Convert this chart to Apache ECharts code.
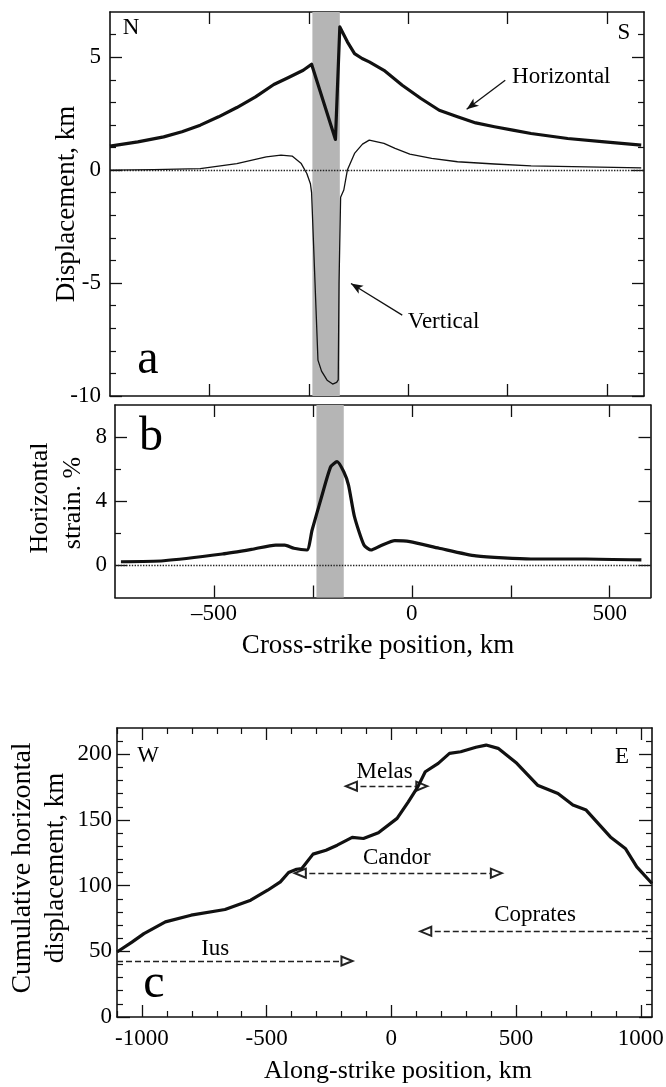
<!DOCTYPE html>
<html><head><meta charset="utf-8">
<script src="https://cdn.jsdelivr.net/npm/echarts@6/dist/echarts.min.js"></script>
<style>html,body{margin:0;padding:0;background:#fff}#c{width:666px;height:1087px}</style>
</head><body><div id="c"></div>
<script>
// ---------------- DATA ----------------
// Panel a: displacement (km) vs cross-strike position (km)
const horizX = [-750,-680,-615,-569,-523,-477,-431,-384,-338,-301,-264,-243,-183,-172,-153,-135,-116,-98,-61,-15,32,78,124,170,217,263,309,401,494,586];
const horizY = [1.06,1.25,1.47,1.70,1.99,2.36,2.77,3.24,3.79,4.10,4.42,4.69,1.36,6.34,5.68,5.16,4.94,4.79,4.42,3.76,3.17,2.65,2.36,2.09,1.92,1.77,1.62,1.40,1.25,1.11];
const vertX = [-750,-640,-523,-431,-357,-320,-292,-269,-255,-246,-243,-227,-218,-204,-190,-180,-176,-174,-170,-162,-153,-135,-115,-98,-61,-33,4,59,124,217,309,586];
const vertY = [0.0,0.02,0.07,0.29,0.59,0.66,0.62,0.29,-0.15,-0.6,-1.0,-8.41,-8.9,-9.3,-9.47,-9.4,-9.29,-5.0,-1.2,-0.88,0.0,0.74,1.15,1.33,1.18,0.96,0.71,0.52,0.37,0.27,0.19,0.10];
const bandX = [-241, -172];
// Panel a annotations
const annotNames = ['Horizontal','Vertical'];
const annotLabelX = [385, 89];
const annotLabelY = [4.13, -6.71];
const annotFromX = [244, -15];
const annotFromY = [3.98, -6.42];
const annotToX = [147, -144];
const annotToY = [2.69, -5.02];

// Panel b: horizontal strain (%)
const strainX = [-735,-627,-479,-405,-344,-321,-298,-265,-252,-228,-205,-189,-172,-160,-145,-121,-103,-80,-43,-5,69,162,301,440,580];
const strainY = [0.23,0.29,0.71,1.00,1.27,1.27,1.07,0.96,2.21,4.28,6.15,6.47,5.84,5.01,3.04,1.27,0.96,1.21,1.54,1.48,1.07,0.59,0.40,0.40,0.34];

// Panel c: cumulative horizontal displacement (km) vs along-strike position (km)
const alongX = [-1100,-1040,-992,-906,-803,-667,-564,-496,-445,-412,-380,-359,-314,-262,-217,-157,-112,-52,23,68,106,136,188,233,278,339,380,428,503,586,668,728,781,878,938,984,1045];
const cumDisp = [49.5,57,63.5,72.4,77.5,81.8,88.9,96.5,102.9,110,112.5,113,124,127,130.8,136.7,135.9,140.2,151.2,163.8,175.2,186.7,193.1,200.7,201.9,205.3,207,204.5,193.1,176.5,170.2,161.3,157.5,137.1,128.3,114.3,101.6];
const valleyNames = ['Melas','Candor','Coprates','Ius'];
const valleyFrom = [-160,-365,138,-1100];
const valleyTo = [122,421,1045,-178];
const valleyLevel = [175.7,109.5,65.2,42.6];
const valleyStartHead = [true,true,true,false];
const valleyEndHead = [true,true,false,true];
const valleyLabelX = [-27,22,576,-706];
const valleyLabelY = [186.5,121.3,77.4,51.5];

// Tick values
const aXTicks = [-500,-250,0,250,500];
const aYLabels = [-10,-5,0,5];
const aYMinor = [-9,-8,-7,-6,-4,-3,-2,-1,1,2,3,4,6];
const bXTicks = [-500,-250,0,250,500];
const bXLabels = [-500,0,500];
const bYLabels = [0,4,8];
const bYMinor = [2,6];
const cXLabels = [-1000,-500,0,500,1000];
const cXMinor = [-1100,-900,-800,-700,-600,-400,-300,-200,-100,100,200,300,400,600,700,800,900];
const cYLabels = [0,50,100,150,200];
const cYMinor = [10,20,30,40,60,70,80,90,110,120,130,140,160,170,180,190,210];

// ---------------- CHART ----------------
const FONT = '"Liberation Serif","Times New Roman","DejaVu Serif",serif';
const INK = '#000';
const zip = (a,b) => a.map((v,i)=>[v,b[i]]);

const grids = [
  {left:110, top:12, width:534, height:384},
  {left:115, top:405, width:535.5, height:192.5},
  {left:117, top:728, width:535, height:289}
];
grids.forEach(g=>{g.containLabel=false; g.outerBoundsMode='none';});

const xAxes = [], yAxes = [];
function axisBase(g,min,max,pos){
  return {gridIndex:g, type:'value', min:min, max:max, position:pos,
    axisLine:{show:true,onZero:false,lineStyle:{color:'#111',width:1.6}},
    splitLine:{show:false}, splitArea:{show:false},
    minorTick:{show:false}, minorSplitLine:{show:false}};
}
function addAxes(list,g,min,max,positions,major,minor,majLen,minLen,labels,fmt,margin){
  let mainIdx = null;
  positions.forEach((pos,pi)=>{
    const m = axisBase(g,min,max,pos);
    m.axisTick = {show:true,inside:true,length:majLen,customValues:major,lineStyle:{color:'#111',width:1.3}};
    if(pi===0 && labels){
      m.axisLabel = {show:true,customValues:labels,formatter:fmt,margin:margin,color:INK,fontSize:23,fontFamily:FONT};
    } else m.axisLabel = {show:false};
    if(pi===0) mainIdx = list.length;
    list.push(m);
    if(minor && minor.length){
      const n = axisBase(g,min,max,pos);
      n.axisLine = {show:false,onZero:false};
      n.axisTick = {show:true,inside:true,length:minLen,customValues:minor,lineStyle:{color:'#111',width:1.2}};
      n.axisLabel = {show:false};
      list.push(n);
    }
  });
  return mainIdx;
}
const hyph = v => String(v);
const endash = v => v<0 ? '\u2013'+Math.abs(v) : String(v);

const ax = addAxes(xAxes,0,-750,593,['bottom','top'],aXTicks,null,12,6,null,null,0);
const ay = addAxes(yAxes,0,-10,7,['left','right'],aYLabels,aYMinor,12,6,aYLabels,hyph,9);
const bx = addAxes(xAxes,1,-750,603,['bottom','top'],bXTicks,null,12,6,bXLabels,endash,5);
const by = addAxes(yAxes,1,-2,10,['left','right'],bYLabels,bYMinor,12,6,bYLabels,hyph,8);
const cx = addAxes(xAxes,2,-1100,1045,['bottom','top'],cXLabels,cXMinor,12,6,cXLabels,hyph,10);
const cy = addAxes(yAxes,2,0,220,['left','right'],cYLabels,cYMinor,13,6,cYLabels,hyph,5);

const zeroLine = {silent:true,symbol:'none',label:{show:false},
  lineStyle:{type:'dotted',color:'#222',width:1.4},data:[{yAxis:0}]};
const band = {silent:true,itemStyle:{color:'#b5b5b5'},data:[[{xAxis:bandX[0]},{xAxis:bandX[1]}]]};
const textLabel = {show:true,formatter:'{b}',position:'inside',color:INK,opacity:1,fontSize:23,fontFamily:FONT};

const series = [
  {type:'line',name:'Horizontal',xAxisIndex:ax,yAxisIndex:ay,data:zip(horizX,horizY),symbol:'none',
   lineStyle:{color:'#111',width:3.2,join:'round'},z:5,markArea:band,markLine:zeroLine},
  {type:'line',name:'Vertical',xAxisIndex:ax,yAxisIndex:ay,data:zip(vertX,vertY),symbol:'none',
   lineStyle:{color:'#111',width:1.3,join:'round'},z:5,
   markLine:{silent:true,label:{show:false},symbol:['none','arrow'],symbolSize:[7,12],
     lineStyle:{type:'solid',color:'#111',width:1.3},
     data:annotNames.map((n,i)=>[{coord:[annotFromX[i],annotFromY[i]]},{coord:[annotToX[i],annotToY[i]]}])}},
  {type:'scatter',xAxisIndex:ax,yAxisIndex:ay,symbolSize:0,silent:true,itemStyle:{opacity:1,color:'#000'},label:textLabel,
   data:annotNames.map((n,i)=>({name:n,value:[annotLabelX[i],annotLabelY[i]]}))},
  {type:'line',name:'Strain',xAxisIndex:bx,yAxisIndex:by,data:zip(strainX,strainY),symbol:'none',
   smooth:0.2,
   lineStyle:{color:'#111',width:3.2},z:5,markArea:band,markLine:zeroLine},
  {type:'line',name:'Cumulative',xAxisIndex:cx,yAxisIndex:cy,data:zip(alongX,cumDisp),symbol:'none',
   lineStyle:{color:'#111',width:3.2,join:'round'},z:5,
   markLine:{silent:true,label:{show:false},symbolSize:[9,11],
     lineStyle:{type:[6,3],color:'#222',width:1.3},
     data:valleyNames.map((n,i)=>[
       {coord:[valleyFrom[i],valleyLevel[i]],symbol:valleyStartHead[i]?'emptyTriangle':'none'},
       {coord:[valleyTo[i],valleyLevel[i]],symbol:valleyEndHead[i]?'emptyTriangle':'none'}])}},
  {type:'scatter',xAxisIndex:cx,yAxisIndex:cy,symbolSize:0,silent:true,itemStyle:{opacity:1,color:'#000'},label:textLabel,
   data:valleyNames.map((n,i)=>({name:n,value:[valleyLabelX[i],valleyLabelY[i]]}))}
];

function txt(text,x,y,size,rot){
  return {type:'text',x:x,y:y,rotation:rot||0,silent:true,
    style:{text:text,fill:INK,fontSize:size,fontFamily:FONT,
      align:'center',verticalAlign:'middle',textAlign:'center',textVerticalAlign:'middle'}};
}
const R = Math.PI/2;
const graphic = [
  txt('Displacement, km',66.7,204,27,R),
  txt('Horizontal',40,498,26,R),
  txt('strain. %',73,503,26,R),
  txt('Cross-strike position, km',378,646,27,0),
  txt('Cumulative horizontal',23,868,28,R),
  txt('displacement, km',56,868,27,R),
  txt('Along-strike position, km',398,1071,26,0),
  txt('N',131,28,23,0),
  txt('S',624,33,23,0),
  txt('W',148,756,23,0),
  txt('E',622,757,23,0),
  txt('a',148,360,48,0),
  txt('b',151,437,48,0),
  txt('c',154,984,48,0)
];

const chart = echarts.init(document.getElementById('c'),null,{renderer:'canvas'});
chart.setOption({
  animation:false,
  backgroundColor:'#fff',
  textStyle:{fontFamily:FONT},
  grid:grids,
  xAxis:xAxes,
  yAxis:yAxes,
  series:series,
  graphic:graphic
});
</script></body></html>
